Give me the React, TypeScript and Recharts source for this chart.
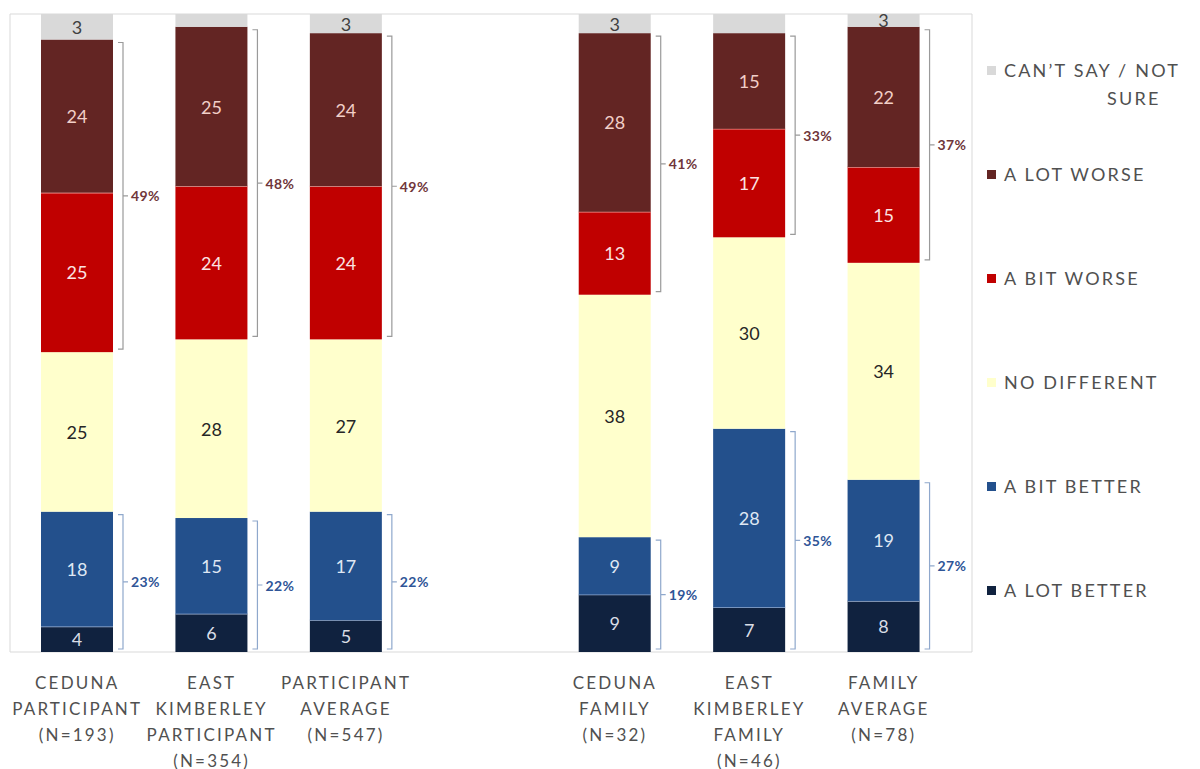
import { BarChart, Bar, XAxis, YAxis, Legend, CartesianGrid } from 'recharts'

// categories (multi-line tick labels), the empty slot is the gap between groups
const categories = [
  ['CEDUNA', 'PARTICIPANT', '(N=193)'],
  ['EAST', 'KIMBERLEY', 'PARTICIPANT', '(N=354)'],
  ['PARTICIPANT', 'AVERAGE', '(N=547)'],
  [],
  ['CEDUNA', 'FAMILY', '(N=32)'],
  ['EAST', 'KIMBERLEY', 'FAMILY', '(N=46)'],
  ['FAMILY', 'AVERAGE', '(N=78)'],
]

const aLotBetter = [4, 6, 5, null, 9, 7, 8]
const aBitBetter = [18, 15, 17, null, 9, 28, 19]
const noDifferent = [25, 28, 27, null, 38, 30, 34]
const aBitWorse = [25, 24, 24, null, 13, 17, 15]
const aLotWorse = [24, 25, 24, null, 28, 15, 22]
const cantSay = [4, 2, 3, null, 3, 3, 2]
const cantSayLabels = ['3', '', '3', '', '3', '', '3']

const worseTotals = ['49%', '48%', '49%', '', '41%', '33%', '37%']
const betterTotals = ['23%', '22%', '22%', '', '19%', '35%', '27%']

const legendItems = [
  { label: ['CAN\u2019T SAY / NOT', 'SURE'], color: '#d9d9d9' },
  { label: ['A LOT WORSE'], color: '#632523' },
  { label: ['A BIT WORSE'], color: '#c00000' },
  { label: ['NO DIFFERENT'], color: '#ffffcc' },
  { label: ['A BIT BETTER'], color: '#23508c' },
  { label: ['A LOT BETTER'], color: '#10223f' },
]

const data = categories.map((_, i) => ({
  name: String(i),
  aLotBetter: aLotBetter[i],
  aBitBetter: aBitBetter[i],
  noDifferent: noDifferent[i],
  aBitWorse: aBitWorse[i],
  aLotWorse: aLotWorse[i],
  cantSay: cantSay[i],
}))

const FONT = 'Lato, "Open Sans", sans-serif'

type BracketOpts = {
  below: (number | null)[]
  labels: string[]
  line: string
  text: string
}

function makeShape(fill: string, textColor: string, sep?: string, labels?: string[], bracket?: BracketOpts) {
  return (props: any) => {
    const { x, y, width, height, index, value } = props
    const v = Array.isArray(value) ? value[1] - value[0] : value
    if (!v || !height) return <g />
    const h = Math.abs(height)
    const top = height < 0 ? y + height : y
    const label = labels ? labels[index] : String(v)
    let br = null
    if (bracket) {
      const unit = h / v
      const bottom = top + h + (bracket.below[index] ?? 0) * unit
      const bx = x + width + 10
      const t = top + 3
      const b = bottom - 3
      const mid = (t + b) / 2
      br = (
        <g>
          <path
            d={`M${bx - 5},${t} L${bx},${t} L${bx},${b} L${bx - 5},${b} M${bx},${mid} L${bx + 5},${mid}`}
            stroke={bracket.line}
            strokeWidth={1.2}
            fill="none"
          />
          <text
            x={bx + 8}
            y={mid}
            dominantBaseline="central"
            fontFamily={FONT}
            fontSize={14}
            fontWeight={700}
            letterSpacing={0.4}
            fill={bracket.text}
          >
            {bracket.labels[index]}
          </text>
        </g>
      )
    }
    return (
      <g>
        <rect x={x} y={top} width={width} height={h} fill={fill} />
        {sep && <line x1={x} x2={x + width} y1={top} y2={top} stroke={sep} strokeWidth={1.5} />}
        {label && (
          <text
            x={x + width / 2}
            y={top + h / 2}
            textAnchor="middle"
            dominantBaseline="central"
            fontFamily={FONT}
            fontSize={18}
            fill={textColor}
          >
            {label}
          </text>
        )}
        {br}
      </g>
    )
  }
}

function CategoryTick(props: any) {
  const { x, y, payload } = props
  const lines = categories[Number(payload.value)] || []
  return (
    <g>
      {lines.map((l, i) => (
        <text
          key={i}
          x={x}
          y={y + 22 + i * 26}
          textAnchor="middle"
          dominantBaseline="central"
          fontFamily={FONT}
          fontSize={17}
          letterSpacing={2.2}
          fill="#505050"
        >
          {l}
        </text>
      ))}
    </g>
  )
}

function LegendContent() {
  return (
    <div style={{ fontFamily: FONT, color: '#505050', fontSize: 18, letterSpacing: 2.2 }}>
      {legendItems.map((it, i) => (
        <div key={i} style={{ position: 'absolute', left: 0, top: i * 104, width: 215 }}>
          <div style={{ display: 'flex', alignItems: 'center', height: 28, whiteSpace: 'nowrap' }}>
            <span style={{ display: 'inline-block', width: 9, height: 9, background: it.color, marginRight: 8 }} />
            <span>{it.label[0]}</span>
          </div>
          {it.label[1] && (
            <div style={{ height: 28, lineHeight: '28px', paddingLeft: 120 }}>{it.label[1]}</div>
          )}
        </div>
      ))}
    </div>
  )
}

export default function App() {
  return (
    <div style={{ position: 'absolute', left: 0, top: 0, width: 1200, height: 769, background: '#fff' }}>
      <BarChart
        width={1200}
        height={769}
        data={data}
        margin={{ top: 14, right: 13, bottom: 87, left: 10 }}
        barSize={72}
      >
        <CartesianGrid
          stroke="#d9d9d9"
          horizontalCoordinatesGenerator={({ offset }: any) => [offset.top, offset.top + offset.height]}
          verticalCoordinatesGenerator={({ offset }: any) => [offset.left, offset.left + offset.width]}
        />
        <XAxis
          dataKey="name"
          axisLine={false}
          tickLine={false}
          interval={0}
          padding={{ left: 0, right: 21 }}
          tick={<CategoryTick />}
        />
        <YAxis hide domain={[0, 100]} />
        <Legend
          layout="vertical"
          align="right"
          verticalAlign="top"
          wrapperStyle={{ left: 987, top: 56, width: 215 }}
          content={<LegendContent />}
        />
        <Bar
          dataKey="aLotBetter"
          stackId="s"
          isAnimationActive={false}
          fill="#10223f"
          shape={makeShape('#10223f', '#d9dde6', '#a3b8d8')}
        />
        <Bar
          dataKey="aBitBetter"
          stackId="s"
          isAnimationActive={false}
          fill="#23508c"
          shape={makeShape('#23508c', '#dfe7f3', undefined, undefined, {
            below: aLotBetter,
            labels: betterTotals,
            line: '#8fa8cc',
            text: '#2f5597',
          })}
        />
        <Bar
          dataKey="noDifferent"
          stackId="s"
          isAnimationActive={false}
          fill="#ffffcc"
          shape={makeShape('#ffffcc', '#262626')}
        />
        <Bar
          dataKey="aBitWorse"
          stackId="s"
          isAnimationActive={false}
          fill="#c00000"
          shape={makeShape('#c00000', '#fbe3e3', '#f2a09a')}
        />
        <Bar
          dataKey="aLotWorse"
          stackId="s"
          isAnimationActive={false}
          fill="#632523"
          shape={makeShape('#632523', '#f2cfc8', undefined, undefined, {
            below: aBitWorse,
            labels: worseTotals,
            line: '#9a9a9a',
            text: '#70363a',
          })}
        />
        <Bar
          dataKey="cantSay"
          stackId="s"
          isAnimationActive={false}
          fill="#d9d9d9"
          shape={makeShape('#d9d9d9', '#404040', undefined, cantSayLabels)}
        />
      </BarChart>
    </div>
  )
}
